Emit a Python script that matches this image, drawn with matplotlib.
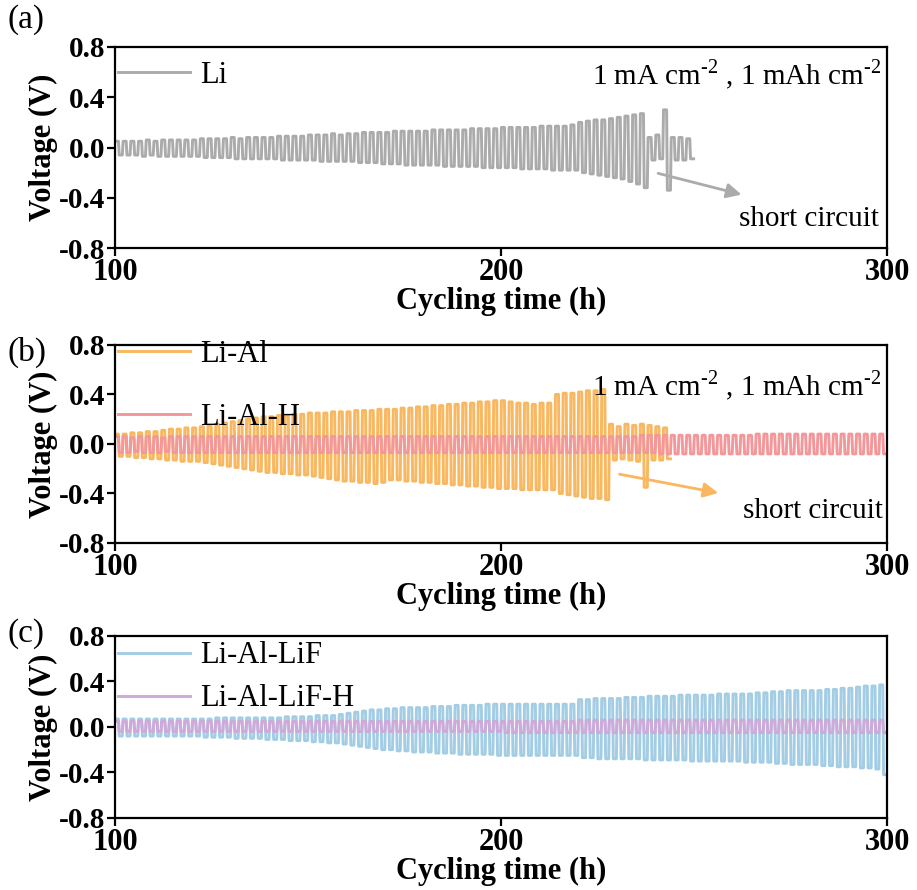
import matplotlib
matplotlib.use('Agg')
import matplotlib.pyplot as plt

plt.rcParams['font.family'] = ['Liberation Serif', 'DejaVu Serif']
plt.rcParams['mathtext.fontset'] = 'custom'
plt.rcParams['mathtext.rm'] = 'Liberation Serif'

# one value per 2 h cycle (charge plateau / discharge plateau)
li_start = 100
li_up = [0.05, 0.05, 0.05, 0.05, 0.06, 0.05, 0.06, 0.06, 0.06, 0.06,
         0.06, 0.07, 0.07, 0.07, 0.07, 0.08, 0.07, 0.08, 0.08, 0.08,
         0.08, 0.09, 0.09, 0.09, 0.09, 0.10, 0.10, 0.10, 0.11, 0.10,
         0.11, 0.11, 0.12, 0.12, 0.12, 0.12, 0.13, 0.13, 0.13, 0.13,
         0.13, 0.14, 0.14, 0.14, 0.14, 0.14, 0.15, 0.15, 0.15, 0.15,
         0.16, 0.16, 0.16, 0.16, 0.16, 0.17, 0.17, 0.17, 0.17, 0.18,
         0.20, 0.21, 0.22, 0.22, 0.23, 0.24, 0.25, 0.26, 0.27, 0.08,
         0.10, 0.30, 0.08, 0.08, 0.07]
li_low = [-0.06, -0.06, -0.06, -0.07, -0.06, -0.07, -0.07, -0.07, -0.07, -0.07,
          -0.07, -0.08, -0.08, -0.08, -0.08, -0.09, -0.09, -0.09, -0.09, -0.09,
          -0.09, -0.10, -0.10, -0.10, -0.10, -0.10, -0.11, -0.11, -0.11, -0.11,
          -0.11, -0.12, -0.12, -0.12, -0.13, -0.13, -0.13, -0.14, -0.14, -0.14,
          -0.14, -0.14, -0.15, -0.15, -0.15, -0.15, -0.15, -0.16, -0.16, -0.16,
          -0.16, -0.16, -0.17, -0.17, -0.17, -0.17, -0.18, -0.18, -0.18, -0.18,
          -0.20, -0.21, -0.22, -0.23, -0.24, -0.25, -0.27, -0.29, -0.32, -0.10,
          -0.09, -0.34, -0.10, -0.10, -0.09]

lial_start = 100
lial_up = [0.08, 0.08, 0.09, 0.09, 0.10, 0.10, 0.11, 0.12, 0.12, 0.13,
           0.13, 0.14, 0.15, 0.16, 0.17, 0.18, 0.19, 0.20, 0.21, 0.22,
           0.22, 0.23, 0.23, 0.24, 0.24, 0.25, 0.25, 0.25, 0.26, 0.26,
           0.26, 0.27, 0.27, 0.27, 0.28, 0.28, 0.28, 0.29, 0.29, 0.30,
           0.30, 0.31, 0.31, 0.32, 0.32, 0.33, 0.33, 0.34, 0.34, 0.35,
           0.35, 0.34, 0.33, 0.33, 0.32, 0.33, 0.33, 0.40, 0.41, 0.41,
           0.42, 0.43, 0.43, 0.44, 0.16, 0.14, 0.16, 0.15, 0.16, 0.15,
           0.14, 0.13]
lial_low = [-0.10, -0.10, -0.11, -0.11, -0.12, -0.12, -0.13, -0.13, -0.14, -0.14,
            -0.14, -0.15, -0.16, -0.17, -0.18, -0.19, -0.20, -0.21, -0.22, -0.23,
            -0.23, -0.24, -0.24, -0.25, -0.25, -0.26, -0.27, -0.28, -0.29, -0.30,
            -0.30, -0.31, -0.31, -0.32, -0.31, -0.29, -0.29, -0.30, -0.30, -0.31,
            -0.31, -0.32, -0.32, -0.33, -0.33, -0.34, -0.34, -0.35, -0.35, -0.36,
            -0.36, -0.36, -0.37, -0.37, -0.37, -0.37, -0.37, -0.40, -0.41, -0.42,
            -0.43, -0.44, -0.44, -0.45, -0.13, -0.12, -0.13, -0.14, -0.35, -0.13,
            -0.13, -0.12]

lialh_start = 100
lialh_up = [0.06, 0.06, 0.05, 0.06, 0.06, 0.06, 0.05, 0.06, 0.06, 0.06,
            0.06, 0.06, 0.06, 0.06, 0.06, 0.06, 0.06, 0.06, 0.06, 0.06,
            0.06, 0.06, 0.06, 0.06, 0.06, 0.06, 0.06, 0.06, 0.06, 0.06,
            0.06, 0.06, 0.06, 0.06, 0.06, 0.06, 0.06, 0.06, 0.06, 0.06,
            0.06, 0.06, 0.06, 0.06, 0.06, 0.06, 0.06, 0.06, 0.06, 0.06,
            0.06, 0.06, 0.06, 0.06, 0.06, 0.06, 0.06, 0.06, 0.06, 0.06,
            0.06, 0.06, 0.06, 0.06, 0.06, 0.06, 0.06, 0.06, 0.07, 0.07,
            0.07, 0.07, 0.07, 0.07, 0.07, 0.07, 0.07, 0.07, 0.07, 0.07,
            0.07, 0.07, 0.07, 0.08, 0.08, 0.08, 0.08, 0.08, 0.08, 0.08,
            0.08, 0.08, 0.08, 0.08, 0.08, 0.08, 0.08, 0.08, 0.08, 0.08]
lialh_low = [-0.07, -0.07, -0.06, -0.07, -0.07, -0.07, -0.06, -0.07, -0.07, -0.07,
             -0.07, -0.07, -0.07, -0.07, -0.07, -0.07, -0.07, -0.07, -0.07, -0.07,
             -0.07, -0.07, -0.07, -0.07, -0.07, -0.07, -0.07, -0.07, -0.07, -0.07,
             -0.07, -0.07, -0.07, -0.07, -0.07, -0.07, -0.07, -0.07, -0.07, -0.07,
             -0.07, -0.07, -0.07, -0.07, -0.07, -0.07, -0.07, -0.07, -0.07, -0.07,
             -0.07, -0.07, -0.07, -0.07, -0.07, -0.07, -0.07, -0.07, -0.07, -0.07,
             -0.07, -0.07, -0.07, -0.07, -0.07, -0.07, -0.07, -0.07, -0.07, -0.07,
             -0.08, -0.08, -0.08, -0.08, -0.08, -0.08, -0.08, -0.08, -0.08, -0.08,
             -0.08, -0.08, -0.08, -0.08, -0.08, -0.08, -0.08, -0.08, -0.08, -0.08,
             -0.08, -0.08, -0.08, -0.08, -0.08, -0.08, -0.08, -0.08, -0.08, -0.08]

lialf_start = 100
lialf_up = [0.07, 0.07, 0.07, 0.07, 0.07, 0.07, 0.07, 0.07, 0.07, 0.07,
            0.07, 0.07, 0.07, 0.08, 0.08, 0.08, 0.08, 0.08, 0.08, 0.08,
            0.08, 0.08, 0.09, 0.09, 0.09, 0.09, 0.10, 0.10, 0.10, 0.11,
            0.12, 0.13, 0.14, 0.15, 0.15, 0.16, 0.16, 0.17, 0.17, 0.17,
            0.17, 0.18, 0.18, 0.18, 0.19, 0.19, 0.19, 0.19, 0.20, 0.20,
            0.20, 0.20, 0.20, 0.20, 0.20, 0.20, 0.20, 0.20, 0.20, 0.20,
            0.24, 0.24, 0.25, 0.25, 0.25, 0.25, 0.26, 0.26, 0.26, 0.27,
            0.27, 0.27, 0.27, 0.28, 0.28, 0.28, 0.28, 0.28, 0.29, 0.29,
            0.29, 0.29, 0.29, 0.30, 0.30, 0.31, 0.31, 0.32, 0.32, 0.32,
            0.32, 0.32, 0.33, 0.33, 0.34, 0.34, 0.35, 0.36, 0.36, 0.37]
lialf_low = [-0.08, -0.08, -0.08, -0.08, -0.08, -0.08, -0.08, -0.08, -0.08, -0.08,
             -0.08, -0.09, -0.09, -0.09, -0.09, -0.10, -0.10, -0.10, -0.10, -0.11,
             -0.11, -0.11, -0.12, -0.12, -0.12, -0.13, -0.13, -0.14, -0.14, -0.15,
             -0.16, -0.17, -0.18, -0.19, -0.20, -0.20, -0.21, -0.21, -0.22, -0.22,
             -0.22, -0.23, -0.23, -0.23, -0.24, -0.24, -0.24, -0.24, -0.24, -0.25,
             -0.25, -0.25, -0.25, -0.25, -0.25, -0.25, -0.25, -0.25, -0.25, -0.25,
             -0.27, -0.27, -0.28, -0.28, -0.28, -0.28, -0.28, -0.28, -0.29, -0.29,
             -0.29, -0.29, -0.29, -0.29, -0.30, -0.30, -0.30, -0.30, -0.30, -0.30,
             -0.30, -0.31, -0.31, -0.31, -0.31, -0.32, -0.32, -0.33, -0.33, -0.33,
             -0.33, -0.34, -0.34, -0.35, -0.35, -0.35, -0.36, -0.36, -0.37, -0.42]

lialfh_start = 100
lialfh_up = [0.05, 0.05, 0.05, 0.05, 0.05, 0.05, 0.05, 0.05, 0.05, 0.05,
             0.05, 0.05, 0.05, 0.05, 0.05, 0.05, 0.05, 0.05, 0.05, 0.05,
             0.05, 0.05, 0.05, 0.05, 0.05, 0.05, 0.05, 0.05, 0.05, 0.05,
             0.05, 0.05, 0.05, 0.05, 0.05, 0.05, 0.05, 0.05, 0.05, 0.05,
             0.05, 0.05, 0.05, 0.05, 0.05, 0.05, 0.05, 0.05, 0.05, 0.05,
             0.05, 0.05, 0.05, 0.05, 0.05, 0.05, 0.05, 0.05, 0.05, 0.05,
             0.06, 0.06, 0.06, 0.06, 0.06, 0.06, 0.06, 0.06, 0.06, 0.06,
             0.06, 0.06, 0.06, 0.06, 0.06, 0.06, 0.06, 0.06, 0.06, 0.06,
             0.06, 0.06, 0.06, 0.06, 0.06, 0.06, 0.06, 0.06, 0.06, 0.06,
             0.06, 0.06, 0.06, 0.06, 0.06, 0.06, 0.06, 0.06, 0.06, 0.06]
lialfh_low = [-0.04, -0.04, -0.04, -0.04, -0.04, -0.04, -0.04, -0.04, -0.04, -0.04,
              -0.04, -0.04, -0.04, -0.04, -0.04, -0.04, -0.04, -0.04, -0.04, -0.04,
              -0.04, -0.04, -0.04, -0.04, -0.04, -0.04, -0.04, -0.04, -0.04, -0.04,
              -0.04, -0.04, -0.04, -0.04, -0.04, -0.04, -0.04, -0.04, -0.04, -0.04,
              -0.04, -0.04, -0.04, -0.04, -0.04, -0.04, -0.04, -0.04, -0.04, -0.04,
              -0.05, -0.05, -0.05, -0.05, -0.05, -0.05, -0.05, -0.05, -0.05, -0.05,
              -0.05, -0.05, -0.05, -0.05, -0.05, -0.05, -0.05, -0.05, -0.05, -0.05,
              -0.05, -0.05, -0.05, -0.05, -0.05, -0.05, -0.05, -0.05, -0.05, -0.05,
              -0.05, -0.05, -0.05, -0.05, -0.05, -0.05, -0.05, -0.05, -0.05, -0.05,
              -0.05, -0.05, -0.05, -0.05, -0.05, -0.05, -0.05, -0.05, -0.05, -0.05]

x_ticks = [100, 200, 300]
y_ticks = [-0.8, -0.4, 0.0, 0.4, 0.8]
cond_text = r'1 mA cm$^{\text{-2}}$ , 1 mAh cm$^{\text{-2}}$'


def wave(start, up, low):
    # square-ish galvanostatic profile: 1 h plating, 1 h stripping per cycle
    t, v = [], []
    for k, (u, l) in enumerate(zip(up, low)):
        t0 = start + 2 * k
        t += [t0 + 0.1, t0 + 0.9, t0 + 1.1, t0 + 1.9]
        v += [u, u, l, l]
    return t, v


def style(ax):
    ax.set_xlim(100, 300)
    ax.set_ylim(-0.8, 0.8)
    ax.set_xticks(x_ticks)
    ax.set_yticks(y_ticks)
    ax.set_yticklabels(['%.1f' % y for y in y_ticks])
    ax.tick_params(direction='out', length=6, width=1.6, pad=1)
    ax.tick_params(axis='x', labelsize=22)
    ax.tick_params(axis='y', labelsize=21)
    for lab in ax.get_xticklabels() + ax.get_yticklabels():
        lab.set_fontweight('bold')
    for s in ax.spines.values():
        s.set_linewidth(1.6)
    ax.set_xlabel('Cycling time (h)', fontsize=22, fontweight='bold', labelpad=0)
    ax.set_ylabel('Voltage (V)', fontsize=22, fontweight='bold', labelpad=1)


fig = plt.figure(figsize=(9.17, 8.9), dpi=100)
ax1 = fig.add_axes([0.1254, 0.7213, 0.8419, 0.2259])
ax2 = fig.add_axes([0.1254, 0.3899, 0.8419, 0.2225])
ax3 = fig.add_axes([0.1254, 0.0810, 0.8419, 0.2044])

c_li = '#ABABAB'
c_lial = '#F9B760'
c_lialh = '#F4979A'
c_lialf = '#A3CDE4'
c_lialfh = '#CDAAD9'
lw = 2.1
leg_kw = dict(loc='upper left', frameon=False, fontsize=22, handlelength=2.35,
              handletextpad=0.35, borderaxespad=0, borderpad=0)

# (a)
t, v = wave(li_start, li_up, li_low)
ax1.plot(t, v, color=c_li, lw=lw, label='Li')
style(ax1)
ax1.legend(bbox_to_anchor=(0.004, 0.93), **leg_kw)
ax1.text(298.5, 0.58, cond_text, fontsize=21, ha='right', va='center')
ax1.annotate('', xy=(263, -0.38), xytext=(240, -0.2),
             arrowprops=dict(arrowstyle='-|>', color=c_li, lw=2, mutation_scale=22))
ax1.text(298, -0.57, 'short circuit', fontsize=21, ha='right', va='center')

# (b)
t, v = wave(lial_start, lial_up, lial_low)
ax2.plot(t, v, color=c_lial, lw=lw, label='Li-Al')
t, v = wave(lialh_start, lialh_up, lialh_low)
ax2.plot(t, v, color=c_lialh, lw=lw, label='Li-Al-H')
style(ax2)
ax2.legend(bbox_to_anchor=(0.004, 1.025), labelspacing=1.1, **leg_kw)
ax2.text(298.5, 0.47, cond_text, fontsize=21, ha='right', va='center')
ax2.annotate('', xy=(257, -0.40), xytext=(230, -0.24),
             arrowprops=dict(arrowstyle='-|>', color=c_lial, lw=2, mutation_scale=22))
ax2.text(299, -0.54, 'short circuit', fontsize=21, ha='right', va='center')

# (c)
t, v = wave(lialf_start, lialf_up, lialf_low)
ax3.plot(t, v, color=c_lialf, lw=lw, label='Li-Al-LiF')
t, v = wave(lialfh_start, lialfh_up, lialfh_low)
ax3.plot(t, v, color=c_lialfh, lw=lw, label='Li-Al-LiF-H')
style(ax3)
ax3.legend(bbox_to_anchor=(0.004, 0.97), labelspacing=0.45, **leg_kw)

fig.text(0.008, 0.978, '(a)', fontsize=24, va='center')
fig.text(0.008, 0.604, '(b)', fontsize=24, va='center')
fig.text(0.008, 0.288, '(c)', fontsize=24, va='center')

fig.savefig('out.png', dpi=100)
